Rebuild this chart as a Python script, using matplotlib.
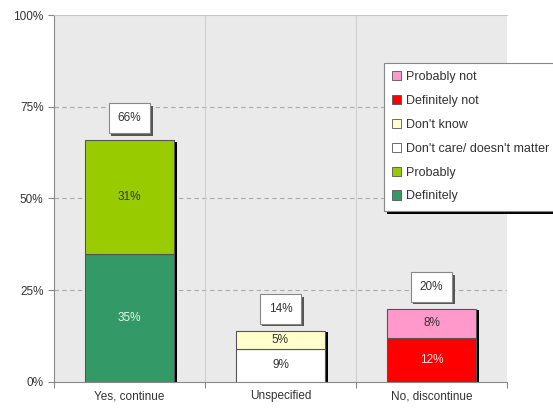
import numpy as np
import matplotlib.pyplot as plt
from matplotlib.patches import Patch, Rectangle

plt.rcParams['font.family'] = ['Liberation Sans', 'DejaVu Sans']

categories = ['Yes, continue', 'Unspecified', 'No, discontinue']
# segment values, bottom to top, for each category
segments = [
    [('Definitely', 35), ('Probably', 31)],
    [("Don't care/ doesn't matter", 9), ("Don't know", 5)],
    [('Definitely not', 12), ('Probably not', 8)],
]
totals = [66, 14, 20]
legend_order = ['Probably not', 'Definitely not', "Don't know",
                "Don't care/ doesn't matter", 'Probably', 'Definitely']
colors = {'Definitely': '#339966', 'Probably': '#99CC00',
          "Don't care/ doesn't matter": '#FFFFFF', "Don't know": '#FFFFCC',
          'Definitely not': '#FF0000', 'Probably not': '#FF99CC'}
text_colors = {'Definitely': '#E8F5EC', 'Probably': '#333333',
               "Don't care/ doesn't matter": '#333333', "Don't know": '#333333',
               'Definitely not': '#FFE0E0', 'Probably not': '#333333'}

fig = plt.figure(figsize=(5.53, 4.11), dpi=100)
ax = fig.add_axes([0.0976, 0.0706, 0.8192, 0.8929])
ax.set_facecolor('#EAEAEA')

x = np.arange(len(categories))
w = 0.59
px = 3.0 / 453  # data units per pixel along x

total_texts = []
for i, segs in enumerate(segments):
    # drop shadow on right side of the stacked bar
    ax.bar(x[i] + 2.5 * px, totals[i] - 0.5, bottom=0, width=w, color='black', zorder=2)
    bottom = 0
    for name, v in segs:
        ax.bar(x[i], v, bottom=bottom, width=w, color=colors[name],
               edgecolor='#555555', linewidth=0.8, zorder=3)
        ax.text(x[i], bottom + v / 2, f'{v}%', ha='center', va='center',
                fontsize=8.5, color=text_colors[name], zorder=4)
        bottom += v
    t = ax.annotate(f'{totals[i]}%', (x[i], totals[i]), xytext=(0, 15.5),
                    textcoords='offset points', ha='center', va='center', fontsize=8.5,
                    color='#333333', zorder=6,
                    bbox=dict(boxstyle='square,pad=0.75', fc='white', ec='#888888', lw=0.8))
    total_texts.append(t)

ax.set_xlim(-0.5, 2.5)
ax.set_ylim(0, 100)
ax.set_yticks([0, 25, 50, 75, 100])
ax.set_yticklabels(['0%', '25%', '50%', '75%', '100%'])
ax.set_xticks([-0.5, 0.5, 1.5, 2.5])
ax.set_xticklabels([])
ax.set_xticks(x, minor=True)
ax.set_xticklabels(categories, minor=True)
ax.tick_params(axis='x', which='minor', length=0, labelsize=8.5, colors='#333333', pad=6)
ax.tick_params(axis='x', which='major', length=4, color='#888888')
ax.tick_params(axis='y', length=4, color='#888888', labelsize=8.5, labelcolor='#333333')

for y in [25, 50, 75]:
    ax.axhline(y, color='#AAAAAA', linestyle=(0, (4, 3)), linewidth=0.8, zorder=1)
for xv in [0.5, 1.5]:
    ax.axvline(xv, color='#D0D0D0', linewidth=0.8, zorder=1)

for s in ['left', 'bottom']:
    ax.spines[s].set_color('#888888')
ax.spines['top'].set_color('#C8C8C8')
ax.spines['right'].set_visible(False)

handles = [Patch(facecolor=colors[n], edgecolor='#555555', linewidth=0.6) for n in legend_order]
leg = fig.legend(handles, legend_order, loc='upper left', bbox_to_anchor=(0.694, 0.847),
                 borderaxespad=0, fontsize=9, frameon=True, fancybox=False, shadow=False,
                 framealpha=1, handlelength=0.75, handleheight=0.75, handletextpad=0.4,
                 labelspacing=0.95, borderpad=0.65, labelcolor='#333333')
leg.get_frame().set_edgecolor('#888888')
leg.get_frame().set_linewidth(0.8)
leg.set_zorder(10)

# shadows for the label boxes and the legend, from their drawn extents
fig.canvas.draw()
W, H = fig.bbox.width, fig.bbox.height
inv = ax.transAxes.inverted()
for t in total_texts:
    bb = t.get_bbox_patch().get_window_extent()
    (ax0, ay0), (ax1, ay1) = inv.transform([(bb.x0 + 2.5, bb.y0 - 2.5), (bb.x1 + 2.5, bb.y1 - 2.5)])
    ax.add_patch(Rectangle((ax0, ay0), ax1 - ax0, ay1 - ay0, transform=ax.transAxes,
                           fc='#555555', ec='none', zorder=5))
bb = leg.get_window_extent()
fig.add_artist(Rectangle(((bb.x0 + 3) / W, (bb.y0 - 3) / H), bb.width / W, bb.height / H,
                         transform=fig.transFigure, fc='black', ec='none', zorder=9))

fig.savefig('out.png', dpi=100)
